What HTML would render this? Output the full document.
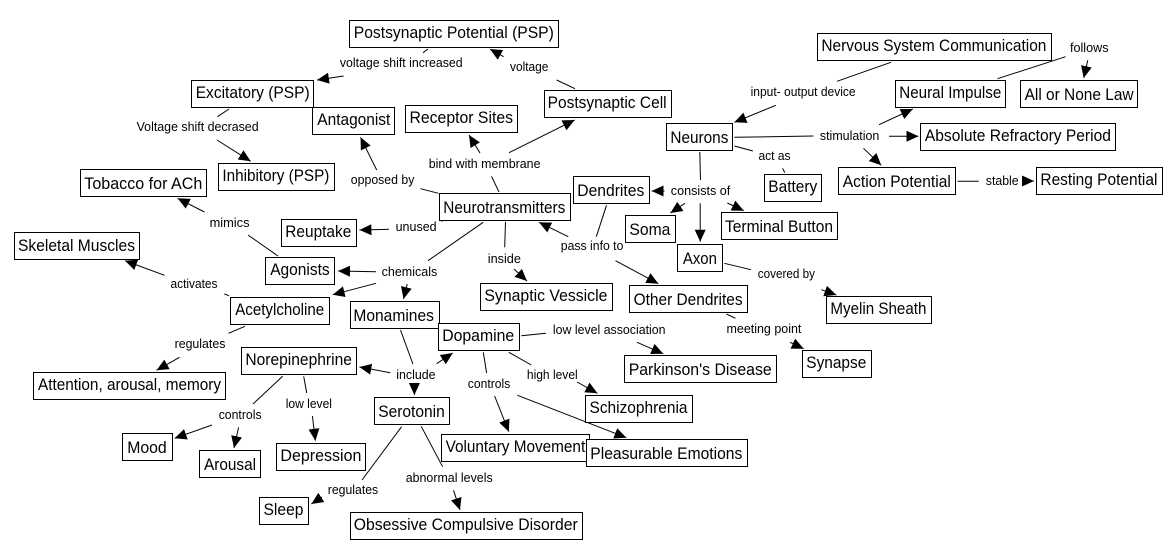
<!DOCTYPE html>
<html><head><meta charset="utf-8"><style>
html,body{margin:0;padding:0;background:#fff;width:1175px;height:559px;overflow:hidden}
svg{display:block}
text{font-family:"Liberation Sans",Arial,sans-serif;fill:#000}
.n{font-size:17px}.l{font-size:12.5px}
rect{fill:#fff;stroke:#000;stroke-width:1}
line{stroke:#000;stroke-width:1}
line.a{marker-end:url(#h)}
</style></head><body>
<svg width="1175" height="559" viewBox="0 0 1175 559" xmlns="http://www.w3.org/2000/svg">
<defs><marker id="h" markerUnits="userSpaceOnUse" markerWidth="12" markerHeight="12" refX="12" refY="6" orient="auto"><path d="M0 0.5L12 6L0 11.5z" fill="#000"/></marker></defs>
<g>
<line x1="428" y1="49" x2="423" y2="52.7"/>
<line class="a" x1="343.6" y1="76" x2="317" y2="80"/>
<line class="a" x1="503.6" y1="56.7" x2="490" y2="49"/>
<line x1="575" y1="88.7" x2="556.6" y2="80"/>
<line x1="229" y1="109" x2="217.5" y2="116.7"/>
<line class="a" x1="217" y1="140" x2="250.7" y2="161.3"/>
<line class="a" x1="376.7" y1="170" x2="360.5" y2="137.3"/>
<line x1="438.5" y1="193.3" x2="420.4" y2="188.7"/>
<line class="a" x1="480" y1="153" x2="469" y2="135"/>
<line class="a" x1="509" y1="152.7" x2="574.7" y2="120"/>
<line x1="499" y1="192" x2="491.5" y2="176.3"/>
<line class="a" x1="389" y1="229.3" x2="359.4" y2="230"/>
<line x1="444" y1="220" x2="441.5" y2="221.3"/>
<line class="a" x1="204.4" y1="212" x2="177.6" y2="198.3"/>
<line x1="278" y1="256" x2="248" y2="235"/>
<line class="a" x1="376" y1="271.7" x2="338" y2="271"/>
<line x1="483.2" y1="222.3" x2="428" y2="260.7"/>
<line x1="505.5" y1="222" x2="504.7" y2="247.3"/>
<line class="a" x1="514" y1="269" x2="527" y2="281"/>
<line class="a" x1="568.3" y1="236.7" x2="539" y2="222.3"/>
<line x1="606.5" y1="205.3" x2="596.3" y2="236.7"/>
<line class="a" x1="615.5" y1="260.7" x2="658.4" y2="283.7"/>
<line class="a" x1="164.5" y1="275.3" x2="125" y2="260.7"/>
<line x1="229" y1="295.7" x2="224.3" y2="294"/>
<line class="a" x1="376" y1="283.3" x2="332.7" y2="294.7"/>
<line class="a" x1="407.2" y1="284" x2="403.5" y2="299"/>
<line x1="245" y1="326.3" x2="228.5" y2="333.3"/>
<line class="a" x1="179.5" y1="357.3" x2="156.6" y2="370.3"/>
<line x1="400.5" y1="330" x2="412.9" y2="364"/>
<line class="a" x1="390.3" y1="372.7" x2="359.4" y2="367"/>
<line class="a" x1="436.6" y1="363.7" x2="452.8" y2="353"/>
<line class="a" x1="414.4" y1="383" x2="414.4" y2="395"/>
<line x1="282.6" y1="376.3" x2="253" y2="404"/>
<line x1="303.7" y1="376.3" x2="306.7" y2="393"/>
<line class="a" x1="211.9" y1="425" x2="174.6" y2="438.3"/>
<line class="a" x1="238.6" y1="427.3" x2="234" y2="448"/>
<line class="a" x1="312.4" y1="416" x2="315.4" y2="440.7"/>
<line x1="401.6" y1="426.7" x2="362" y2="480"/>
<line class="a" x1="322" y1="497" x2="311.3" y2="504"/>
<line x1="421.2" y1="426.3" x2="442.6" y2="466.7"/>
<line class="a" x1="453.5" y1="490.3" x2="460" y2="510"/>
<line x1="483.3" y1="352.3" x2="486.6" y2="373"/>
<line class="a" x1="494.6" y1="396" x2="508.8" y2="431.7"/>
<line class="a" x1="517.5" y1="395.3" x2="626.4" y2="437.7"/>
<line x1="508.8" y1="352.3" x2="531.4" y2="365"/>
<line class="a" x1="577" y1="382" x2="597.4" y2="393.3"/>
<line x1="521.3" y1="335.7" x2="546" y2="333.3"/>
<line class="a" x1="637" y1="342.3" x2="663.3" y2="353.7"/>
<line x1="726.5" y1="314" x2="735.5" y2="318.3"/>
<line class="a" x1="790" y1="342.3" x2="803.7" y2="348.7"/>
<line x1="724.3" y1="263.3" x2="751" y2="269.7"/>
<line class="a" x1="821.4" y1="289.7" x2="836.4" y2="295"/>
<line x1="891" y1="62.3" x2="837" y2="81.3"/>
<line class="a" x1="775.8" y1="105.3" x2="734.4" y2="122.3"/>
<line x1="997.5" y1="78.7" x2="1065.6" y2="56.7"/>
<line class="a" x1="1087.8" y1="60.3" x2="1083.7" y2="78"/>
<line x1="734.4" y1="137.3" x2="813.5" y2="136"/>
<line class="a" x1="879" y1="124.7" x2="912.8" y2="109"/>
<line class="a" x1="889" y1="136.3" x2="918.5" y2="136.3"/>
<line class="a" x1="863.5" y1="148.3" x2="881.2" y2="165.3"/>
<line x1="734.4" y1="146" x2="752.9" y2="151"/>
<line x1="782.6" y1="168.3" x2="784.8" y2="172.7"/>
<line x1="957.6" y1="181.3" x2="978.7" y2="181.3"/>
<line class="a" x1="1022" y1="181" x2="1034" y2="181"/>
<line x1="699.8" y1="152" x2="700.5" y2="180"/>
<line class="a" x1="664.5" y1="191" x2="651.6" y2="191"/>
<line class="a" x1="685" y1="203.3" x2="670.4" y2="213"/>
<line class="a" x1="727.3" y1="203" x2="743.8" y2="210.7"/>
<line class="a" x1="700.2" y1="203.3" x2="700.2" y2="241.7"/>
</g>
<g>
<rect x="349.5" y="20.5" width="209" height="27"/>
<rect x="191.5" y="80.5" width="122" height="27"/>
<rect x="312.5" y="107.5" width="82" height="27"/>
<rect x="405.5" y="105.5" width="112" height="27"/>
<rect x="544.5" y="90.5" width="127" height="27"/>
<rect x="218.5" y="163.5" width="116" height="27"/>
<rect x="80.5" y="169.5" width="126" height="27"/>
<rect x="573.5" y="176.5" width="76" height="27"/>
<rect x="439.5" y="193.5" width="131" height="27"/>
<rect x="281.5" y="219.5" width="75" height="27"/>
<rect x="14.5" y="232.5" width="125" height="27"/>
<rect x="265.5" y="257.5" width="69" height="27"/>
<rect x="817.5" y="33.5" width="234" height="27"/>
<rect x="895.5" y="80.5" width="110" height="27"/>
<rect x="1020.5" y="80.5" width="117" height="27"/>
<rect x="666.5" y="123.5" width="66" height="27"/>
<rect x="920.5" y="123.5" width="195" height="27"/>
<rect x="838.5" y="167.5" width="117" height="27"/>
<rect x="1036.5" y="167.5" width="126" height="27"/>
<rect x="764.5" y="174.5" width="57" height="27"/>
<rect x="625.5" y="215.5" width="50" height="27"/>
<rect x="721.5" y="212.5" width="116" height="27"/>
<rect x="677.5" y="244.5" width="45" height="27"/>
<rect x="230.5" y="297.5" width="99" height="27"/>
<rect x="350.5" y="301.5" width="89" height="27"/>
<rect x="438.5" y="323.5" width="81" height="27"/>
<rect x="241.5" y="347.5" width="115" height="27"/>
<rect x="33.5" y="372.5" width="192" height="27"/>
<rect x="374.5" y="397.5" width="75" height="27"/>
<rect x="122.5" y="433.5" width="50" height="27"/>
<rect x="199.5" y="450.5" width="61" height="27"/>
<rect x="276.5" y="443.5" width="89" height="27"/>
<rect x="441.5" y="434.5" width="148" height="27"/>
<rect x="259.5" y="497.5" width="49" height="27"/>
<rect x="350.5" y="512.5" width="232" height="27"/>
<rect x="480.5" y="283.5" width="132" height="27"/>
<rect x="629.5" y="285.5" width="118" height="27"/>
<rect x="826.5" y="296.5" width="105" height="27"/>
<rect x="624.5" y="355.5" width="152" height="27"/>
<rect x="802.5" y="350.5" width="69" height="27"/>
<rect x="585.5" y="395.5" width="107" height="27"/>
<rect x="586.5" y="439.5" width="161" height="27"/>
</g>
<g>
<text class="n" x="353.8" y="38" textLength="200" lengthAdjust="spacingAndGlyphs">Postsynaptic Potential (PSP)</text>
<text class="n" x="195.7" y="98" textLength="114" lengthAdjust="spacingAndGlyphs">Excitatory (PSP)</text>
<text class="n" x="317.3" y="125" textLength="73" lengthAdjust="spacingAndGlyphs">Antagonist</text>
<text class="n" x="409.5" y="123" textLength="103.5" lengthAdjust="spacingAndGlyphs">Receptor Sites</text>
<text class="n" x="547.6" y="108" textLength="119" lengthAdjust="spacingAndGlyphs">Postsynaptic Cell</text>
<text class="n" x="222.4" y="181" textLength="107" lengthAdjust="spacingAndGlyphs">Inhibitory (PSP)</text>
<text class="n" x="84.3" y="189" textLength="118" lengthAdjust="spacingAndGlyphs">Tobacco for ACh</text>
<text class="n" x="577.3" y="196" textLength="67" lengthAdjust="spacingAndGlyphs">Dendrites</text>
<text class="n" x="443.3" y="213" textLength="122" lengthAdjust="spacingAndGlyphs">Neurotransmitters</text>
<text class="n" x="285.3" y="237" textLength="66" lengthAdjust="spacingAndGlyphs">Reuptake</text>
<text class="n" x="18" y="251" textLength="117" lengthAdjust="spacingAndGlyphs">Skeletal Muscles</text>
<text class="n" x="270.2" y="275" textLength="59.5" lengthAdjust="spacingAndGlyphs">Agonists</text>
<text class="n" x="821.4" y="51" textLength="225" lengthAdjust="spacingAndGlyphs">Nervous System Communication</text>
<text class="n" x="899.3" y="98" textLength="102" lengthAdjust="spacingAndGlyphs">Neural Impulse</text>
<text class="n" x="1024.6" y="100" textLength="109" lengthAdjust="spacingAndGlyphs">All or None Law</text>
<text class="n" x="670.4" y="143" textLength="58" lengthAdjust="spacingAndGlyphs">Neurons</text>
<text class="n" x="924.9" y="141" textLength="186" lengthAdjust="spacingAndGlyphs">Absolute Refractory Period</text>
<text class="n" x="842.8" y="187" textLength="108" lengthAdjust="spacingAndGlyphs">Action Potential</text>
<text class="n" x="1040.4" y="185" textLength="117" lengthAdjust="spacingAndGlyphs">Resting Potential</text>
<text class="n" x="768.3" y="192" textLength="49" lengthAdjust="spacingAndGlyphs">Battery</text>
<text class="n" x="629.4" y="235" textLength="41" lengthAdjust="spacingAndGlyphs">Soma</text>
<text class="n" x="725" y="232" textLength="108" lengthAdjust="spacingAndGlyphs">Terminal Button</text>
<text class="n" x="682.9" y="264" textLength="34" lengthAdjust="spacingAndGlyphs">Axon</text>
<text class="n" x="235.2" y="315" textLength="89" lengthAdjust="spacingAndGlyphs">Acetylcholine</text>
<text class="n" x="353.4" y="321" textLength="80.5" lengthAdjust="spacingAndGlyphs">Monamines</text>
<text class="n" x="442.2" y="341" textLength="72" lengthAdjust="spacingAndGlyphs">Dopamine</text>
<text class="n" x="245.4" y="365" textLength="106.5" lengthAdjust="spacingAndGlyphs">Norepinephrine</text>
<text class="n" x="38" y="390" textLength="183" lengthAdjust="spacingAndGlyphs">Attention, arousal, memory</text>
<text class="n" x="378.2" y="417" textLength="66.6" lengthAdjust="spacingAndGlyphs">Serotonin</text>
<text class="n" x="127.2" y="453" textLength="39.5" lengthAdjust="spacingAndGlyphs">Mood</text>
<text class="n" x="204" y="470" textLength="52" lengthAdjust="spacingAndGlyphs">Arousal</text>
<text class="n" x="280.4" y="461" textLength="81" lengthAdjust="spacingAndGlyphs">Depression</text>
<text class="n" x="445.6" y="452" textLength="139.6" lengthAdjust="spacingAndGlyphs">Voluntary Movement</text>
<text class="n" x="263.5" y="515" textLength="40" lengthAdjust="spacingAndGlyphs">Sleep</text>
<text class="n" x="353.8" y="530" textLength="224" lengthAdjust="spacingAndGlyphs">Obsessive Compulsive Disorder</text>
<text class="n" x="484.4" y="301" textLength="123" lengthAdjust="spacingAndGlyphs">Synaptic Vessicle</text>
<text class="n" x="633.6" y="305" textLength="109" lengthAdjust="spacingAndGlyphs">Other Dendrites</text>
<text class="n" x="830.4" y="314" textLength="96" lengthAdjust="spacingAndGlyphs">Myelin Sheath</text>
<text class="n" x="628.7" y="375" textLength="143" lengthAdjust="spacingAndGlyphs">Parkinson's Disease</text>
<text class="n" x="806.3" y="368" textLength="60" lengthAdjust="spacingAndGlyphs">Synapse</text>
<text class="n" x="589.5" y="413" textLength="98" lengthAdjust="spacingAndGlyphs">Schizophrenia</text>
<text class="n" x="590.3" y="459" textLength="152" lengthAdjust="spacingAndGlyphs">Pleasurable Emotions</text>
</g>
<g>
<text class="l" x="339.9" y="67" textLength="122.7" lengthAdjust="spacingAndGlyphs">voltage shift increased</text>
<text class="l" x="510" y="71" textLength="38.4" lengthAdjust="spacingAndGlyphs">voltage</text>
<text class="l" x="136.6" y="131" textLength="122" lengthAdjust="spacingAndGlyphs">Voltage shift decrased</text>
<text class="l" x="428.7" y="168" textLength="111.8" lengthAdjust="spacingAndGlyphs">bind with membrane</text>
<text class="l" x="350.8" y="184" textLength="63.6" lengthAdjust="spacingAndGlyphs">opposed by</text>
<text class="l" x="209.6" y="227" textLength="39.9" lengthAdjust="spacingAndGlyphs">mimics</text>
<text class="l" x="395.6" y="231" textLength="41" lengthAdjust="spacingAndGlyphs">unused</text>
<text class="l" x="560.8" y="250" textLength="62.6" lengthAdjust="spacingAndGlyphs">pass info to</text>
<text class="l" x="487.8" y="263" textLength="33.1" lengthAdjust="spacingAndGlyphs">inside</text>
<text class="l" x="381.6" y="276" textLength="55.7" lengthAdjust="spacingAndGlyphs">chemicals</text>
<text class="l" x="170.5" y="288" textLength="47" lengthAdjust="spacingAndGlyphs">activates</text>
<text class="l" x="750.6" y="96" textLength="105" lengthAdjust="spacingAndGlyphs">input- output device</text>
<text class="l" x="1070" y="52" textLength="38.5" lengthAdjust="spacingAndGlyphs">follows</text>
<text class="l" x="819.9" y="140" textLength="59.4" lengthAdjust="spacingAndGlyphs">stimulation</text>
<text class="l" x="758.5" y="160" textLength="32" lengthAdjust="spacingAndGlyphs">act as</text>
<text class="l" x="985.8" y="185" textLength="32.8" lengthAdjust="spacingAndGlyphs">stable</text>
<text class="l" x="670.8" y="195" textLength="59.5" lengthAdjust="spacingAndGlyphs">consists of</text>
<text class="l" x="757.8" y="278" textLength="57.2" lengthAdjust="spacingAndGlyphs">covered by</text>
<text class="l" x="174.6" y="348" textLength="50.8" lengthAdjust="spacingAndGlyphs">regulates</text>
<text class="l" x="396.3" y="379" textLength="39.2" lengthAdjust="spacingAndGlyphs">include</text>
<text class="l" x="218.7" y="419" textLength="42.9" lengthAdjust="spacingAndGlyphs">controls</text>
<text class="l" x="285.7" y="408" textLength="46.3" lengthAdjust="spacingAndGlyphs">low level</text>
<text class="l" x="467.8" y="388" textLength="42.5" lengthAdjust="spacingAndGlyphs">controls</text>
<text class="l" x="526.9" y="379" textLength="50.8" lengthAdjust="spacingAndGlyphs">high level</text>
<text class="l" x="552.9" y="334" textLength="112.6" lengthAdjust="spacingAndGlyphs">low level association</text>
<text class="l" x="726.5" y="333" textLength="74.9" lengthAdjust="spacingAndGlyphs">meeting point</text>
<text class="l" x="405.7" y="482" textLength="87" lengthAdjust="spacingAndGlyphs">abnormal levels</text>
<text class="l" x="327.8" y="494" textLength="50.4" lengthAdjust="spacingAndGlyphs">regulates</text>
</g>
</svg>
</body></html>
